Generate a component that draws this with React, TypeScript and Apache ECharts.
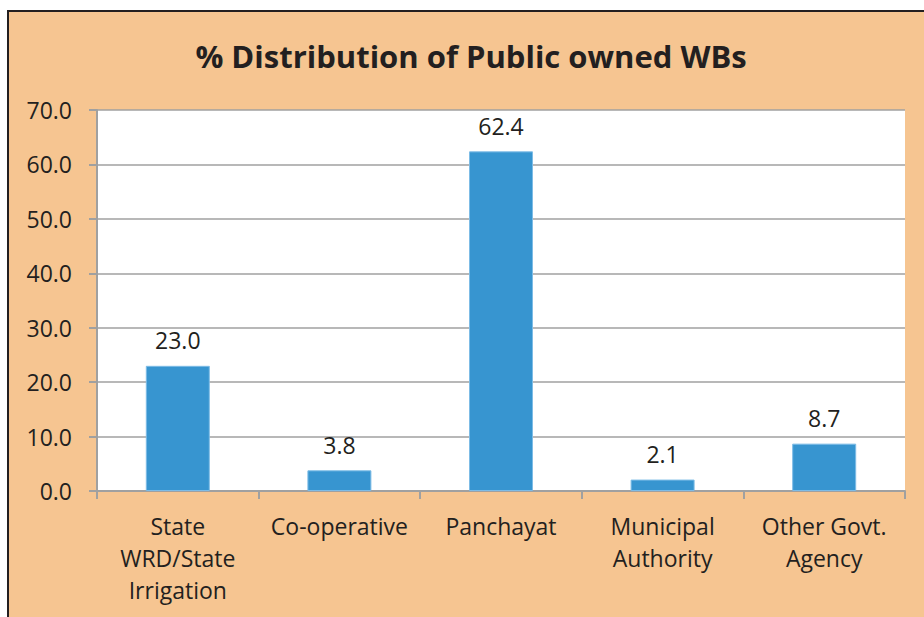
import React, { useEffect, useRef } from "react";
import * as echarts from "echarts";

const categories = [
  "State\nWRD/State\nIrrigation",
  "Co-operative",
  "Panchayat",
  "Municipal\nAuthority",
  "Other Govt.\nAgency",
];
const values = [23.0, 3.8, 62.4, 2.1, 8.7];
const titleText = "% Distribution of Public owned WBs";

const FONT = "'Open Sans', 'Noto Sans', sans-serif";
const TEXT = "#231F20";

export default function App() {
  const ref = useRef<HTMLDivElement>(null);
  useEffect(() => {
    if (!ref.current) return;
    const chart = echarts.init(ref.current, undefined, { renderer: "svg" });
    chart.setOption({
      animation: false,
      backgroundColor: "#ffffff",
      graphic: [
        {
          type: "rect",
          z: -10,
          silent: true,
          shape: { x: 8, y: 11, width: 1000, height: 1000 },
          style: { fill: "#F6C591", stroke: "#231F20", lineWidth: 2 },
        },
      ],
      title: {
        text: titleText,
        left: 466,
        top: 35,
        textAlign: "center",
        textStyle: {
          fontFamily: FONT,
          fontWeight: "bold",
          fontSize: 31,
          color: TEXT,
        },
      },
      grid: {
        left: 97,
        top: 110,
        right: 19,
        bottom: 126,
        show: true,
        backgroundColor: "#ffffff",
        borderWidth: 0,
      },
      xAxis: {
        type: "category",
        data: categories,
        axisLine: { show: true, lineStyle: { color: "#A0A0A0", width: 2 } },
        axisTick: { show: true, length: 8, alignWithLabel: false, lineStyle: { color: "#A0A0A0", width: 2 } },
        axisLabel: {
          interval: 0,
          margin: 19,
          fontFamily: FONT,
          fontSize: 23,
          lineHeight: 32,
          color: TEXT,
        },
      },
      yAxis: {
        type: "value",
        min: 0,
        max: 70,
        interval: 10,
        axisLine: { show: true, lineStyle: { color: "#A0A0A0", width: 2 } },
        axisTick: { show: true, length: 8, lineStyle: { color: "#A0A0A0", width: 2 } },
        splitLine: { show: true, lineStyle: { color: "#A0A0A0", width: 1.5 } },
        axisLabel: {
          margin: 25,
          fontFamily: FONT,
          fontSize: 23,
          color: TEXT,
          formatter: (v: number) => v.toFixed(1),
        },
      },
      series: [
        {
          type: "bar",
          data: values,
          barWidth: 64,
          itemStyle: { color: "#3795D0", borderColor: "#7DBCE6", borderWidth: 1 },
          label: {
            show: true,
            position: "top",
            distance: 14,
            fontFamily: FONT,
            fontSize: 23,
            color: TEXT,
            formatter: (p: any) => Number(p.value).toFixed(1),
          },
        },
      ],
    });
    return () => chart.dispose();
  }, []);
  return (
    <div
      ref={ref}
      style={{ position: "fixed", left: 0, top: 0, width: 924, height: 617 }}
    />
  );
}
